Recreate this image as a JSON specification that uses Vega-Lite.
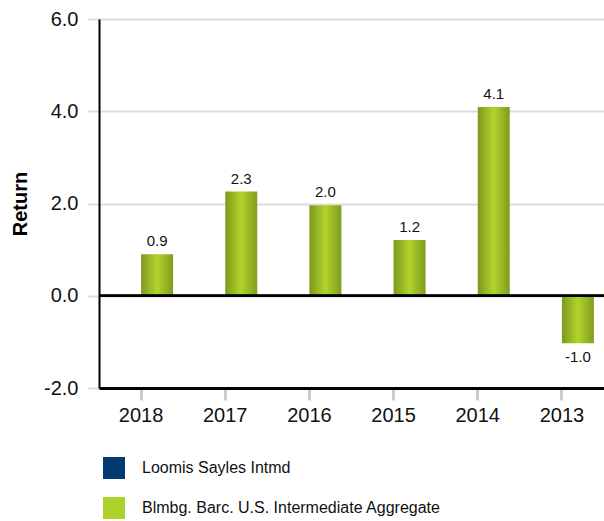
{
  "$schema": "https://vega.github.io/schema/vega-lite/v6.json",
  "width": 505,
  "height": 369,
  "autosize": {"type": "none"},
  "padding": {"left": 99, "top": 19, "right": 0, "bottom": 133},
  "background": "white",
  "config": {
    "font": "Liberation Sans",
    "view": {"stroke": null},
    "axis": {"labelFont": "Liberation Sans", "titleFont": "Liberation Sans"}
  },
  "data": {
    "values": [
      {"year": "2018", "series": "Loomis Sayles Intmd", "ret": null},
      {"year": "2017", "series": "Loomis Sayles Intmd", "ret": null},
      {"year": "2016", "series": "Loomis Sayles Intmd", "ret": null},
      {"year": "2015", "series": "Loomis Sayles Intmd", "ret": null},
      {"year": "2014", "series": "Loomis Sayles Intmd", "ret": null},
      {"year": "2013", "series": "Loomis Sayles Intmd", "ret": null},
      {"year": "2018", "series": "Blmbg. Barc. U.S. Intermediate Aggregate", "ret": 0.9},
      {"year": "2017", "series": "Blmbg. Barc. U.S. Intermediate Aggregate", "ret": 2.26},
      {"year": "2016", "series": "Blmbg. Barc. U.S. Intermediate Aggregate", "ret": 1.96},
      {"year": "2015", "series": "Blmbg. Barc. U.S. Intermediate Aggregate", "ret": 1.21},
      {"year": "2014", "series": "Blmbg. Barc. U.S. Intermediate Aggregate", "ret": 4.09},
      {"year": "2013", "series": "Blmbg. Barc. U.S. Intermediate Aggregate", "ret": -1.03}
    ]
  },
  "encoding": {
    "x": {
      "field": "year",
      "type": "nominal",
      "sort": ["2018", "2017", "2016", "2015", "2014", "2013"],
      "scale": {"paddingInner": 0.24, "paddingOuter": 0.12},
      "axis": {
        "title": null,
        "labelAngle": 0,
        "labelFontSize": 20,
        "labelColor": "#111111",
        "labelPadding": 5,
        "domainColor": "#000000",
        "domainWidth": 3,
        "tickColor": "#c8cdd2",
        "tickWidth": 3,
        "tickSize": 12,
        "grid": false
      }
    },
    "xOffset": {
      "field": "series",
      "type": "nominal",
      "scale": {"domain": ["Loomis Sayles Intmd", "Blmbg. Barc. U.S. Intermediate Aggregate"]}
    },
    "y": {
      "field": "ret",
      "type": "quantitative",
      "scale": {"domain": [-2, 6], "nice": false, "zero": false},
      "axis": {
        "title": "Return",
        "titleFontSize": 20,
        "titleFontWeight": "bold",
        "titleColor": "#000000",
        "titlePadding": 13,
        "values": [-2, 0, 2, 4, 6],
        "labelExpr": "replace(format(datum.value, '.1f'), '\u2212', '-')",
        "labelFontSize": 20,
        "labelColor": "#111111",
        "labelPadding": 10,
        "domainColor": "#000000",
        "domainWidth": 2,
        "tickColor": "#dcdcdc",
        "tickWidth": 2,
        "tickSize": 11,
        "grid": true,
        "gridColor": "#dcdcdc",
        "gridWidth": 2
      }
    }
  },
  "layer": [
    {
      "mark": {
        "type": "bar",
        "fill": {
          "gradient": "linear",
          "x1": 0, "y1": 0, "x2": 1, "y2": 0,
          "stops": [
            {"offset": 0, "color": "#7c991d"},
            {"offset": 0.5, "color": "#b2d42b"},
            {"offset": 1, "color": "#7f9c1e"}
          ]
        }
      }
    },
    {
      "mark": {"type": "rule", "color": "#000000", "strokeWidth": 2},
      "encoding": {"y": {"datum": 0}, "x": null, "xOffset": null}
    },
    {
      "transform": [
        {"filter": "datum.ret != null && datum.ret >= 0"},
        {"calculate": "replace(format(datum.ret, '.1f'), '\u2212', '-')", "as": "lab"}
      ],
      "mark": {"type": "text", "baseline": "bottom", "dy": -5, "fontSize": 15, "color": "#111111"},
      "encoding": {"text": {"field": "lab", "type": "nominal"}}
    },
    {
      "transform": [
        {"filter": "datum.ret != null && datum.ret < 0"},
        {"calculate": "replace(format(datum.ret, '.1f'), '\u2212', '-')", "as": "lab"}
      ],
      "mark": {"type": "text", "baseline": "top", "dy": 7, "fontSize": 15, "color": "#111111"},
      "encoding": {"text": {"field": "lab", "type": "nominal"}}
    },
    {
      "mark": {"type": "square", "opacity": 0},
      "encoding": {
        "color": {
          "field": "series",
          "type": "nominal",
          "scale": {
            "domain": ["Loomis Sayles Intmd", "Blmbg. Barc. U.S. Intermediate Aggregate"],
            "range": ["#003a70", "#acd12a"]
          },
          "legend": {
            "orient": "none",
            "legendX": 4,
            "legendY": 438,
            "title": null,
            "direction": "vertical",
            "symbolType": "square",
            "symbolSize": 484,
            "symbolOpacity": 1,
            "symbolStrokeWidth": 0,
            "labelFontSize": 16,
            "labelColor": "#111111",
            "labelFont": "Liberation Sans",
            "labelOffset": 17,
            "rowPadding": 18,
            "padding": 0,
            "labelLimit": 400
          }
        }
      }
    }
  ]
}
